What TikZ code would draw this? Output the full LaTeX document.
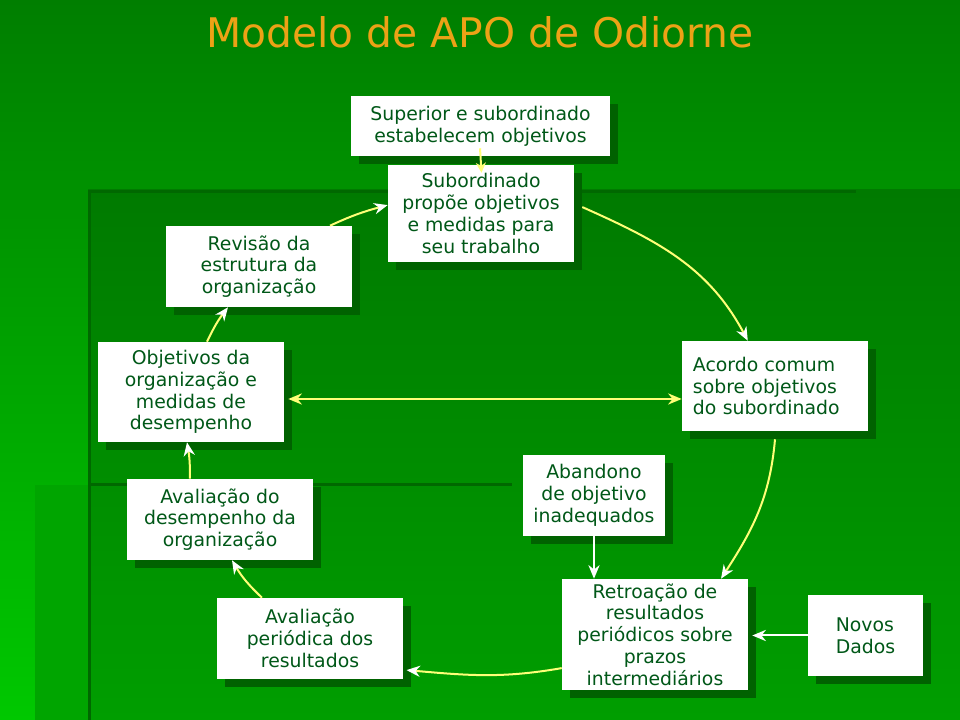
\documentclass[tikz,border=0pt]{standalone}
\usepackage{fontspec}
\setmainfont{DejaVu Sans}
\usepackage{xcolor}
\usetikzlibrary{arrows.meta, shadows}

\definecolor{bgtop}{RGB}{0,126,0}
\definecolor{bgbot}{RGB}{0,200,0}
\definecolor{laytop}{RGB}{0,122,0}
\definecolor{laybot}{RGB}{0,158,0}
\definecolor{layleft}{RGB}{0,165,0}
\definecolor{layline}{RGB}{0,104,0}
\definecolor{boxtext}{RGB}{0,88,24}
\definecolor{boxshadow}{RGB}{0,98,0}
\definecolor{titleorange}{RGB}{236,162,22}
\definecolor{arrowyellow}{RGB}{255,255,120}

\begin{document}
\begin{tikzpicture}[x=0.025cm, y=0.025cm,
  box/.style={fill=white, text=boxtext, align=center, inner sep=0pt,
    font=\fontsize{13.4}{15.5}\selectfont,
    minimum width=4.65cm, minimum height=2.025cm,
    drop shadow={shadow xshift=0.2cm, shadow yshift=-0.2cm, fill=boxshadow, opacity=1}},
  cyc/.style={-{Stealth[color=white, length=0.34cm, width=0.28cm]}, line width=0.05cm, draw=arrowyellow},
  ext/.style={-{Stealth[length=0.34cm, width=0.28cm]}, line width=0.05cm, draw=white},
  both/.style={{Stealth[length=0.34cm, width=0.28cm]}-{Stealth[length=0.34cm, width=0.28cm]}, line width=0.05cm, draw=arrowyellow}
]
  % fundo em camadas
  \shade[top color=bgtop, bottom color=bgbot] (0,0) rectangle (960,720);
  \fill[layleft] (35,0) rectangle (88,235);
  \shade[top color=laytop, bottom color=laybot] (88,0) rectangle (960,530);
  \fill[layline] (88,0) rectangle (91,530);
  \fill[layline] (88,527) rectangle (856,530);
  \fill[layline] (88,234) rectangle (512,237);

  \node[font=\fontsize{29}{34}\selectfont, text=titleorange] (title) at (480,688) {Modelo de APO de Odiorne};

  % caixas
  \node[box, minimum width=6.475cm, minimum height=1.5cm] (sup) at (480.5,594) {Superior e subordinado\\estabelecem objetivos};
  \node[box, minimum height=2.425cm] (sub) at (481,506.5) {Subordinado\\propõe objetivos\\e medidas para\\seu trabalho};
  \node[box] (rev) at (259,453.5) {Revisão da\\estrutura da\\organização};
  \node[box, minimum height=2.5cm] (obj) at (191,328) {Objetivos da\\organização e\\medidas de\\desempenho};
  \node[box, minimum height=2.25cm, align=left, text width=4.1cm, inner xsep=0.275cm] (aco) at (775,334) {Acordo comum\\sobre objetivos\\do subordinado};
  \node[box, minimum width=3.55cm] (aba) at (594,224.5) {Abandono\\de objetivo\\inadequados};
  \node[box] (ades) at (220,200.5) {Avaliação do\\desempenho da\\organização};
  \node[box] (aper) at (310,81.5) {Avaliação\\periódica dos\\resultados};
  \node[box, minimum height=2.775cm] (ret) at (655,85.5) {Retroação de\\resultados\\periódicos sobre\\prazos\\intermediários};
  \node[box, minimum width=2.875cm, align=left] (nov) at (865.5,84.5) {Novos\\Dados};

  % ciclo
  \draw[-{Stealth[length=0.25cm, width=0.25cm]}, line width=0.05cm, draw=arrowyellow, shorten <=-0.2cm, shorten >=-0.2cm] (sup.south) -- (sub.north);
  \draw[cyc] ([xshift=0.2cm, yshift=0.16cm]sub.east) to[out=-24, in=118] ([xshift=-0.68cm]aco.north);
  \draw[cyc] ([yshift=-0.2cm]aco.south) to[out=-95, in=57] ([xshift=1.65cm]ret.north);
  \draw[cyc] ([yshift=-0.84cm]ret.west) to[out=190, in=-5] ([xshift=0.08cm, yshift=-0.79cm]aper.east);
  \draw[cyc] ([xshift=-1.2cm]aper.north) to[bend left=8] ([xshift=0.3cm]ades.south);
  \draw[cyc] ([xshift=-0.75cm]ades.north) to[bend right=5] ([xshift=-0.1cm]obj.south);
  \draw[cyc] ([xshift=0.4cm]obj.north) to[bend left=6] ([xshift=-0.775cm]rev.south);
  \draw[cyc] ([xshift=1.775cm]rev.north) to[out=25, in=195] ([yshift=0.21cm]sub.west);

  % ligacoes extras
  \draw[both] ([xshift=0.1cm, yshift=-0.175cm]obj.east) -- ([yshift=-0.175cm]obj.east -| aco.west);
  \draw[ext] (aba.south) -- (aba.south |- ret.north);
  \draw[ext] (nov.west) -- ([xshift=0.1cm]nov.west -| ret.east);
\end{tikzpicture}
\end{document}
